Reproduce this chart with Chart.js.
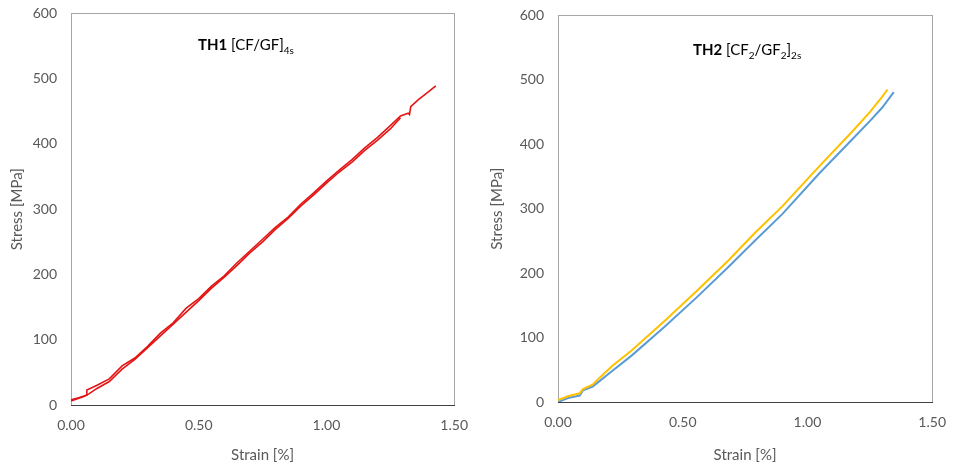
<!DOCTYPE html>
<html>
<head>
<meta charset="utf-8">
<script src="https://cdn.jsdelivr.net/npm/chart.js@4.4.1/dist/chart.umd.min.js"></script>
<style>
  body { margin: 0; background: #fff; overflow: hidden; }
  .box { position: absolute; }
  #left { left: 0; top: -9px; width: 480px; height: 473px; }
  #right { left: 480px; top: -7px; width: 478px; height: 471px; }
</style>
</head>
<body>
<div class="box" id="left"><canvas id="chart1"></canvas></div>
<div class="box" id="right"><canvas id="chart2"></canvas></div>
<script>
// TH1 - two specimens (red)
const th1aStrain = [0, 0.03, 0.06, 0.062, 0.10, 0.15, 0.20, 0.25, 0.30, 0.35, 0.40, 0.45, 0.50, 0.55, 0.60, 0.65, 0.70, 0.75, 0.80, 0.85, 0.90, 0.95, 1.00, 1.05, 1.10, 1.15, 1.20, 1.25, 1.29, 1.32, 1.325, 1.33, 1.36, 1.40, 1.428]
const th1aStress = [8, 11, 15, 23, 30, 40, 60, 72, 90, 110, 126, 148, 163, 182, 198, 218, 236, 254, 272, 288, 308, 325, 343, 360, 376, 394, 410, 428, 443, 447, 445, 457, 468, 480, 489]
const th1bStrain = [0, 0.05, 0.07, 0.10, 0.15, 0.20, 0.25, 0.30, 0.35, 0.40, 0.45, 0.50, 0.55, 0.60, 0.65, 0.70, 0.75, 0.80, 0.85, 0.90, 0.95, 1.00, 1.05, 1.10, 1.15, 1.20, 1.25, 1.29]
const th1bStress = [6, 13, 17, 25, 36, 55, 70, 88, 106, 124, 142, 160, 179, 196, 214, 233, 250, 269, 286, 305, 322, 340, 357, 372, 390, 406, 423, 440]

// TH2 - yellow and blue specimens
const th2yStrain = [0, 0.04, 0.087, 0.10, 0.139, 0.165, 0.217, 0.295, 0.425, 0.555, 0.684, 0.788, 0.9, 1.048, 1.178, 1.25, 1.30, 1.321]
const th2yStress = [3, 9, 13.5, 20, 27, 37, 56, 80, 125, 172, 220, 262, 304, 366, 419, 450, 474, 485]
const th2bStrain = [0, 0.04, 0.087, 0.10, 0.139, 0.165, 0.217, 0.295, 0.425, 0.555, 0.684, 0.788, 0.9, 1.048, 1.178, 1.25, 1.30, 1.346]
const th2bStress = [0, 6, 10, 18, 24, 32, 48, 72, 116, 162, 210, 250, 292, 355, 407, 436, 457, 481]

const xTicks = [0, 0.5, 1.0, 1.5]
const yTicks = [0, 100, 200, 300, 400, 500, 600]

Chart.defaults.font.family = 'Lato, "Open Sans", sans-serif'
Chart.defaults.color = '#595959'

function pts(xs, ys) {
  return xs.map((x, i) => ({ x: x, y: ys[i] }))
}

function frame(bottomColor) {
  return {
    id: 'frame',
    beforeDatasetsDraw(chart) {
      const a = chart.chartArea, ctx = chart.ctx
      ctx.save()
      ctx.lineWidth = 1
      ctx.strokeStyle = '#a6a6a6'
      ctx.strokeRect(Math.round(a.left) + 0.5, Math.round(a.top) + 0.5, Math.round(a.right - a.left), Math.round(a.bottom - a.top))
      ctx.strokeStyle = bottomColor
      ctx.beginPath()
      ctx.moveTo(Math.round(a.left), Math.round(a.bottom) + 0.5)
      ctx.lineTo(Math.round(a.right) + 1, Math.round(a.bottom) + 0.5)
      ctx.stroke()
      ctx.restore()
    }
  }
}

// inside-plot label: bold name, bracket text with subscripts
function label(parts, x, y) {
  return {
    id: 'label',
    afterDraw(chart) {
      const ctx = chart.ctx
      ctx.save()
      ctx.fillStyle = '#000'
      ctx.textBaseline = 'alphabetic'
      let cx = x
      parts.forEach(p => {
        const size = p.sub ? 10 : 15
        ctx.font = (p.bold ? 'bold ' : '') + size + 'px Lato, "Open Sans", sans-serif'
        ctx.fillText(p.t, cx, p.sub ? y + 4 : y)
        cx += ctx.measureText(p.t).width
      })
      ctx.restore()
    }
  }
}

function makeOptions(yWidth, xHeight, padRight) {
  return {
    responsive: false,
    animation: false,
    layout: { padding: { top: 0, right: padRight, left: 0, bottom: 0 } },
    plugins: { legend: { display: false }, tooltip: { enabled: false } },
    elements: { point: { radius: 0 }, line: { tension: 0 } },
    scales: {
      x: {
        type: 'linear', min: 0, max: 1.5,
        afterBuildTicks: s => { s.ticks = xTicks.map(v => ({ value: v })) },
        ticks: { font: { size: 14 }, padding: 12, callback: v => v.toFixed(2), maxRotation: 0 },
        grid: { display: false, drawTicks: false },
        border: { display: false },
        title: { display: true, text: 'Strain [%]', font: { size: 15 }, padding: { top: 4, bottom: 0 } },
        afterFit: s => { s.height = xHeight }
      },
      y: {
        type: 'linear', min: 0, max: 600,
        afterBuildTicks: s => { s.ticks = yTicks.map(v => ({ value: v })) },
        ticks: { font: { size: 14 }, padding: 14 },
        grid: { display: false, drawTicks: false },
        border: { display: false },
        title: { display: true, text: 'Stress [MPa]', font: { size: 15 }, padding: { top: 8, bottom: 0 } },
        afterFit: s => { s.width = yWidth }
      }
    }
  }
}

const c1 = document.getElementById('chart1')
c1.width = 480; c1.height = 473
new Chart(c1, {
  type: 'line',
  data: {
    datasets: [
      { label: 'TH1 a', data: pts(th1aStrain, th1aStress), borderColor: 'rgb(228,20,20)', borderWidth: 1.6 },
      { label: 'TH1 b', data: pts(th1bStrain, th1bStress), borderColor: 'rgb(228,20,20)', borderWidth: 1.6 }
    ]
  },
  options: makeOptions(71, 59, 25),
  plugins: [frame('#404040'), label([{ t: 'TH1', bold: true }, { t: ' [CF/GF]' }, { t: '4s', sub: true }], 198, 59)]
})

const c2 = document.getElementById('chart2')
c2.width = 478; c2.height = 471
new Chart(c2, {
  type: 'line',
  data: {
    datasets: [
      { label: 'TH2 yellow', data: pts(th2yStrain, th2yStress), borderColor: '#ffc000', borderWidth: 2 },
      { label: 'TH2 blue', data: pts(th2bStrain, th2bStress), borderColor: '#5b9bd5', borderWidth: 2 }
    ]
  },
  options: makeOptions(78, 62, 15),
  plugins: [frame('#404040'), label([{ t: 'TH2', bold: true }, { t: ' [CF' }, { t: '2', sub: true }, { t: '/GF' }, { t: '2', sub: true }, { t: ']' }, { t: '2s', sub: true }], 213, 62)]
})
</script>
</body>
</html>
